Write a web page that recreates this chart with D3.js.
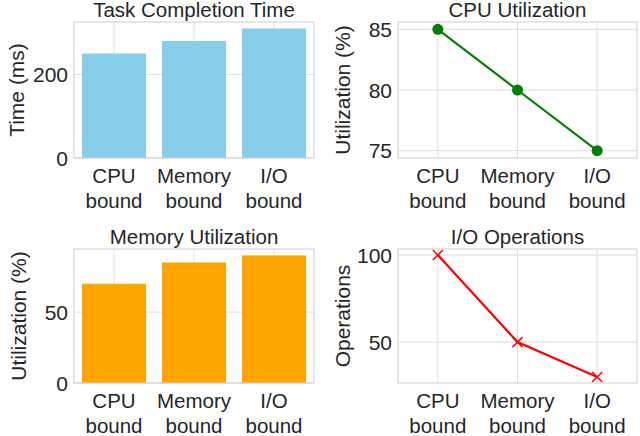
<!DOCTYPE html>
<html><head><meta charset="utf-8">
<script src="https://cdn.jsdelivr.net/npm/d3@7"></script>
<style>body{margin:0;background:#fff}text{font-family:"Liberation Sans",Arial,sans-serif;fill:#262626}</style>
</head><body>
<svg id="chart" width="640" height="436"></svg>
<script>
const categories = ['CPU bound', 'Memory bound', 'I/O bound'];
const taskTime = [250, 280, 310];
const cpuUtil = [85, 80, 75];
const memUtil = [70, 85, 90];
const ioOps = [100, 50, 30];

const svg = d3.select('#chart');

const panels = [
  {title: 'Task Completion Time', ylabel: 'Time (ms)', data: taskTime, type: 'bar', color: '#87ceeb',
   x0: 74, x1: 314, y0: 22, y1: 158, domain: [0, 325.5], ticks: [0, 200], labelX: 17},
  {title: 'CPU Utilization', ylabel: 'Utilization (%)', data: cpuUtil, type: 'dot', color: '#008000',
   x0: 398, x1: 637, y0: 22, y1: 158, domain: [74.4, 85.6], ticks: [75, 80, 85], labelX: 343},
  {title: 'Memory Utilization', ylabel: 'Utilization (%)', data: memUtil, type: 'bar', color: '#ffa500',
   x0: 74, x1: 314, y0: 249, y1: 383, domain: [0, 94.5], ticks: [0, 50], labelX: 19},
  {title: 'I/O Operations', ylabel: 'Operations', data: ioOps, type: 'cross', color: '#ff0000',
   x0: 398, x1: 637, y0: 249, y1: 383, domain: [26.5, 103.5], ticks: [50, 100], labelX: 343}
];

panels.forEach(p => {
  const g = svg.append('g');
  const x = d3.scaleBand().domain(categories).range([p.x0, p.x1]).paddingInner(0.2).paddingOuter(0.1);
  const y = d3.scaleLinear().domain(p.domain).range([p.y1, p.y0]);
  const cx = c => x(c) + x.bandwidth() / 2;

  // grid
  g.selectAll('.gy').data(p.ticks).join('line')
    .attr('x1', p.x0).attr('x2', p.x1).attr('y1', d => y(d)).attr('y2', d => y(d))
    .attr('stroke', '#dedede').attr('stroke-width', 1);
  g.selectAll('.gx').data(categories).join('line')
    .attr('x1', cx).attr('x2', cx).attr('y1', p.y0).attr('y2', p.y1)
    .attr('stroke', '#dedede').attr('stroke-width', 1);

  if (p.type === 'bar') {
    g.selectAll('.bar').data(p.data).join('rect')
      .attr('x', (d, i) => x(categories[i])).attr('width', x.bandwidth())
      .attr('y', d => y(d)).attr('height', d => y(0) - y(d))
      .attr('fill', p.color);
  } else {
    const line = d3.line().x((d, i) => cx(categories[i])).y(d => y(d));
    g.append('path').datum(p.data).attr('d', line)
      .attr('fill', 'none').attr('stroke', p.color).attr('stroke-width', 2.2);
    if (p.type === 'dot') {
      g.selectAll('.pt').data(p.data).join('circle')
        .attr('cx', (d, i) => cx(categories[i])).attr('cy', d => y(d)).attr('r', 5.5)
        .attr('fill', p.color);
    } else {
      g.selectAll('.pt').data(p.data).join('path')
        .attr('transform', (d, i) => `translate(${cx(categories[i])},${y(d)})`)
        .attr('d', 'M-5,-5L5,5M-5,5L5,-5').attr('stroke', p.color).attr('stroke-width', 1.5);
    }
  }

  g.append('rect').attr('x', p.x0).attr('y', p.y0).attr('width', p.x1 - p.x0).attr('height', p.y1 - p.y0)
    .attr('fill', 'none').attr('stroke', '#d0d0d0').attr('stroke-width', 1);

  // y ticks
  g.selectAll('.yt').data(p.ticks).join('text')
    .attr('x', p.x0 - 6).attr('y', d => y(d)).attr('dy', '0.36em')
    .attr('text-anchor', 'end').attr('font-size', 21).text(d => d);
  // x ticks (two lines)
  categories.forEach(c => {
    const parts = c.split(' ');
    const t = g.append('text').attr('text-anchor', 'middle').attr('font-size', 20.5);
    parts.forEach((s, i) => t.append('tspan').attr('x', cx(c)).attr('y', p.y1 + 25 + i * 25).text(s));
  });
  // title
  g.append('text').attr('x', (p.x0 + p.x1) / 2).attr('y', p.y0 - 5)
    .attr('text-anchor', 'middle').attr('font-size', 20.5).text(p.title);
  // y label
  g.append('text').attr('transform', `translate(${p.labelX},${(p.y0 + p.y1) / 2}) rotate(-90)`)
    .attr('dy', '0.35em').attr('text-anchor', 'middle').attr('font-size', 21).text(p.ylabel);
});
</script>
</body></html>
